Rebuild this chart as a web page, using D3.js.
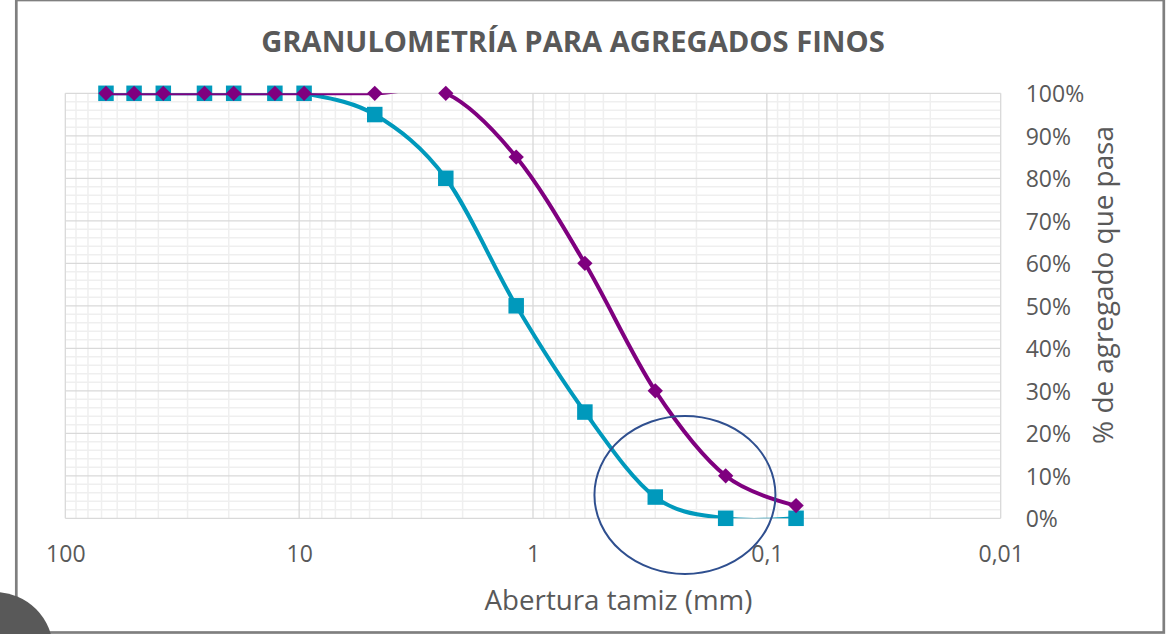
<!DOCTYPE html>
<html>
<head>
<meta charset="utf-8">
<script src="https://cdn.jsdelivr.net/npm/d3@7"></script>
<style>
  html, body { margin: 0; padding: 0; background: #fff; }
  svg { display: block; }
</style>
</head>
<body>
<svg id="chart" width="1175" height="634"></svg>
<script>
// ---- DATA ----
const sieveSizes = [67, 50.8, 38.1, 25.4, 19.05, 12.7, 9.525, 4.75, 2.36, 1.18, 0.6, 0.3, 0.15, 0.075];
const lowerLimit = [100, 100, 100, 100, 100, 100, 100, 95, 80, 50, 25, 5, 0, 0];
const upperLimit = [100, 100, 100, 100, 100, 100, 100, 100, 100, 85, 60, 30, 10, 3];
const xTickValues = [100, 10, 1, 0.1, 0.01];
const xTickLabels = ["100", "10", "1", "0,1", "0,01"];
const yTickValues = [0, 0.1, 0.2, 0.3, 0.4, 0.5, 0.6, 0.7, 0.8, 0.9, 1.0];
const titleText = "GRANULOMETRÍA PARA AGREGADOS FINOS";
const xTitleText = "Abertura tamiz (mm)";
const yTitleText = "% de agregado que pasa";
// annotation ellipse (data units for centre)
const highlightCenter = [0.224, 0.055];

// ---- LAYOUT ----
const svg = d3.select("#chart");
const plot = { left: 65.3, right: 1000.7, top: 93.3, bottom: 518.3 };
const x = d3.scaleLog().domain([100, 0.01]).range([plot.left, plot.right]);
const y = d3.scaleLinear().domain([0, 1]).range([plot.bottom, plot.top]);
const teal = "#0099BC", purple = "#7F007F", textCol = "#595959";
const FONT = "'Open Sans', 'Noto Sans', sans-serif";

svg.append("rect").attr("width", 1175).attr("height", 634).attr("fill", "#fff");

// clip for lines
svg.append("defs").append("clipPath").attr("id", "plotClip")
  .append("rect").attr("x", plot.left).attr("y", plot.top)
  .attr("width", plot.right - plot.left).attr("height", plot.bottom - plot.top);

// ---- GRID ----
const grid = svg.append("g");
const yMinor = d3.range(0, 101, 2).filter(v => v % 10 !== 0).map(v => v / 100);
grid.selectAll(".hmin").data(yMinor).join("line")
  .attr("x1", plot.left).attr("x2", plot.right)
  .attr("y1", d => y(d)).attr("y2", d => y(d))
  .attr("stroke", "#efefef").attr("stroke-width", 1.5);
const xMinor = x.ticks().filter(v => !xTickValues.some(t => Math.abs(t - v) / t < 1e-6));
grid.selectAll(".vmin").data(xMinor).join("line")
  .attr("x1", d => x(d)).attr("x2", d => x(d))
  .attr("y1", plot.top).attr("y2", plot.bottom)
  .attr("stroke", "#efefef").attr("stroke-width", 1.5);
grid.selectAll(".hmaj").data(yTickValues).join("line")
  .attr("x1", plot.left).attr("x2", plot.right)
  .attr("y1", d => y(d)).attr("y2", d => y(d))
  .attr("stroke", "#d9d9d9").attr("stroke-width", 1.3);
grid.selectAll(".vmaj").data(xTickValues).join("line")
  .attr("x1", d => x(d)).attr("x2", d => x(d))
  .attr("y1", plot.top).attr("y2", plot.bottom)
  .attr("stroke", "#d9d9d9").attr("stroke-width", 1.3);

// ---- AXES ----
const xAxis = d3.axisBottom(x).tickValues(xTickValues)
  .tickFormat((d, i) => xTickLabels[i]).tickSize(0).tickPadding(0);
const gx = svg.append("g").attr("transform", `translate(0,${plot.bottom})`).call(xAxis);
gx.select(".domain").remove();
gx.selectAll("text").attr("y", 44).attr("dy", null)
  .style("font-family", FONT).style("font-size", "23px").attr("fill", textCol);

const yAxis = d3.axisRight(y).tickValues(yTickValues)
  .tickFormat(d3.format(".0%")).tickSize(0).tickPadding(0);
const gy = svg.append("g").attr("transform", `translate(${plot.right},0)`).call(yAxis);
gy.select(".domain").remove();
gy.selectAll("text").attr("x", 25).attr("dy", "0.36em").attr("text-anchor", "start")
  .style("font-family", FONT).style("font-size", "23px").attr("fill", textCol);

// ---- SERIES ----
const lineGen = d3.line()
  .x(d => x(d[0])).y(d => y(d[1] / 100))
  .curve(d3.curveCatmullRom.alpha(0));
const lowerPts = sieveSizes.map((s, i) => [s, lowerLimit[i]]);
const upperPts = sieveSizes.map((s, i) => [s, upperLimit[i]]);

svg.append("path").datum(lowerPts).attr("d", lineGen)
  .attr("fill", "none").attr("stroke", teal).attr("stroke-width", 4)
  .attr("clip-path", "url(#plotClip)");
svg.append("g").selectAll("rect").data(lowerPts).join("rect")
  .attr("x", d => x(d[0]) - 7.75).attr("y", d => y(d[1] / 100) - 7.75)
  .attr("width", 15.5).attr("height", 15.5).attr("fill", teal);

svg.append("path").datum(upperPts).attr("d", lineGen)
  .attr("fill", "none").attr("stroke", purple).attr("stroke-width", 4)
  .attr("clip-path", "url(#plotClip)");
const diamond = d3.symbol().type(d3.symbolDiamond2).size(150);
svg.append("g").selectAll("path").data(upperPts).join("path")
  .attr("transform", d => `translate(${x(d[0])},${y(d[1] / 100)})`)
  .attr("d", diamond).attr("fill", purple);

// ---- ANNOTATION ELLIPSE ----
svg.append("ellipse")
  .attr("cx", x(highlightCenter[0])).attr("cy", y(highlightCenter[1]))
  .attr("rx", 90.5).attr("ry", 79)
  .attr("fill", "none").attr("stroke", "#2F4F8F").attr("stroke-width", 2);

// ---- TITLES ----
function fitWidth(sel, target) {
  const w = sel.node().getBBox().width;
  const fs = parseFloat(sel.style("font-size"));
  sel.style("font-size", (fs * target / w) + "px");
}
const title = svg.append("text").attr("x", 573).attr("y", 52)
  .attr("text-anchor", "middle").style("font-family", FONT)
  .style("font-weight", "bold").style("font-size", "24px").attr("fill", textCol)
  .text(titleText);
fitWidth(title, 624);

const xt = svg.append("text").attr("x", 618.5).attr("y", 610)
  .attr("text-anchor", "middle").style("font-family", FONT)
  .style("font-size", "26px").attr("fill", textCol).text(xTitleText);
fitWidth(xt, 268);

const yt = svg.append("text").attr("transform", "translate(1113,285) rotate(-90)")
  .attr("text-anchor", "middle").style("font-family", FONT)
  .style("font-size", "26px").attr("fill", textCol).text(yTitleText);
fitWidth(yt, 318);

// ---- FRAME & DECORATION ----
svg.append("rect").attr("x", 16.3).attr("y", 0).attr("width", 1147.5).attr("height", 632.5)
  .attr("fill", "none").attr("stroke", "#7f7f7f").attr("stroke-width", 2.7);
svg.append("circle").attr("cx", -5).attr("cy", 650).attr("r", 58).attr("fill", "#595959");
</script>
</body>
</html>
